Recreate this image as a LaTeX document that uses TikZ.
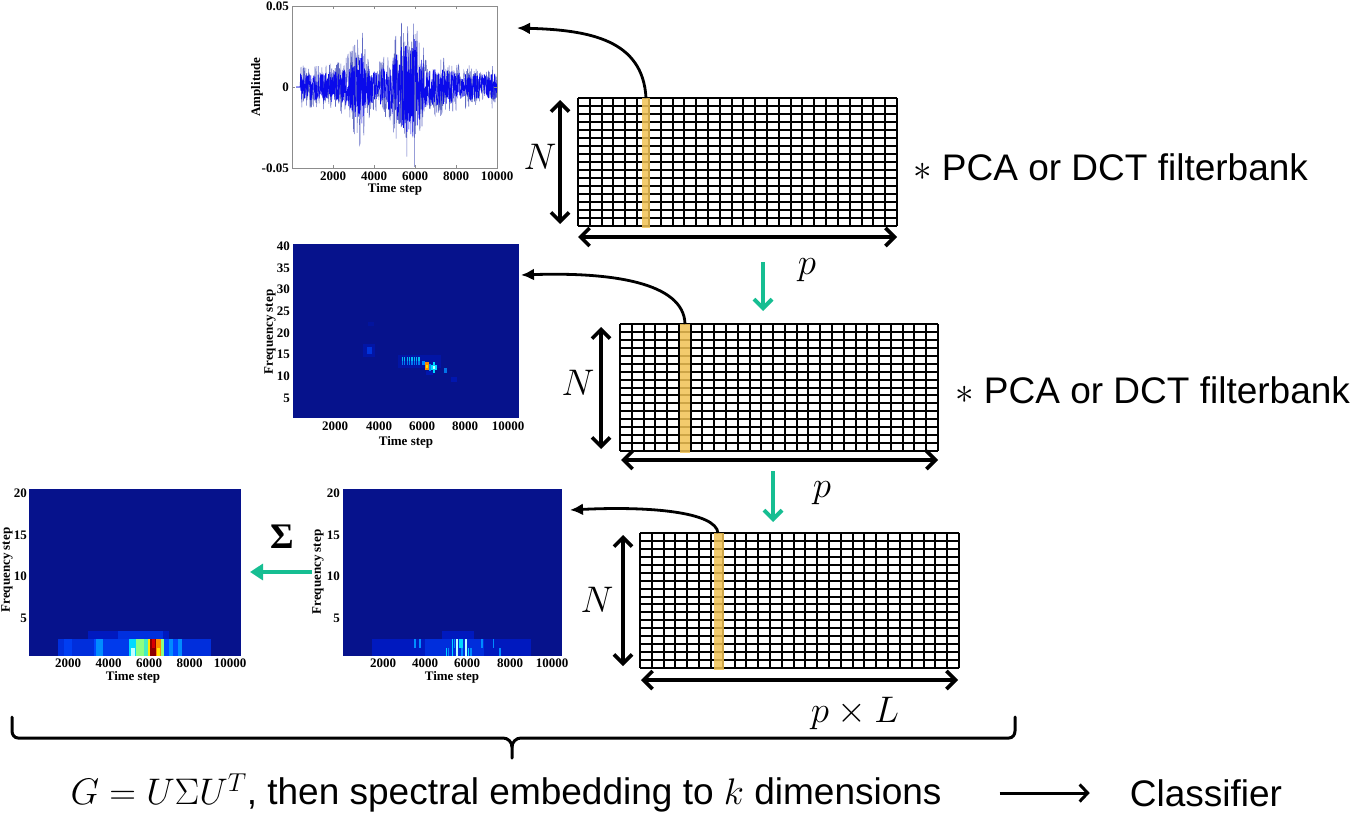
\RequirePackage{fix-cm}
\documentclass[tikz,border=0pt]{standalone}
\usepackage{fontspec}
\setmainfont{Liberation Sans}
\newfontfamily\tnr{Liberation Serif}
\usetikzlibrary{arrows.meta}
\definecolor{tealc}{RGB}{22,190,146}
\definecolor{jetbg}{RGB}{6,18,140}
\definecolor{ylw}{RGB}{242,194,84}
\definecolor{axgray}{RGB}{140,140,140}
\definecolor{sigblue}{RGB}{10,10,235}
\definecolor{siglight}{RGB}{95,105,195}
\definecolor{j1}{rgb}{0,0.1,0.75}
\definecolor{j2}{rgb}{0,0.28,1}
\definecolor{j3}{rgb}{0,0.55,1}
\definecolor{j4}{rgb}{0,0.85,1}
\definecolor{j5}{rgb}{0.55,1,0.5}
\definecolor{j6}{rgb}{1,0.9,0}
\definecolor{j7}{rgb}{1,0.55,0}
\definecolor{j8}{rgb}{0.85,0,0}
\definecolor{j9}{rgb}{0.55,0,0}
\definecolor{jw}{rgb}{0.75,1,1}
\newcommand\bigsize{\fontsize{37}{42}\selectfont}
\tikzset{
  bigtext/.style={font=\bigsize, inner sep=0pt},
  ticklab/.style={font=\tnr\bfseries\fontsize{13}{14}\selectfont, inner sep=0pt},
  gridline/.style={line width=2pt},
  dimarrow/.style={line width=3.6pt, {Straight Barb[length=9pt,width=18pt]}-{Straight Barb[length=9pt,width=18pt]}},
  tealdown/.style={tealc, line width=4pt, -{Straight Barb[length=9pt,width=18pt]}},
  curvearrow/.style={line width=2.8pt, -{Latex[length=13pt,width=12pt]}},
}
\newcommand\matgrid[6]{%
  \fill[white] (#1,#2) rectangle (#3,#4);
  \foreach \i in {0,...,#5} {\draw[gridline] ({#1+(#3-#1)*\i/#5},#2) -- ({#1+(#3-#1)*\i/#5},#4);}
  \foreach \j in {0,...,#6} {\draw[gridline] (#1,{#2+(#4-#2)*\j/#6}) -- (#3,{#2+(#4-#2)*\j/#6});}
}
\newcommand\cel[5]{\fill[#5] (#1,#3) rectangle (#2,#4);}
\begin{document}
\begin{tikzpicture}[x=1pt,y=-1pt]
\useasboundingbox (0,0) rectangle (1371,838);
\pgfmathsetseed{12}
% ================= P1 : signal
\begin{scope}
 \clip (292,6) rectangle (497,168);
 \begin{scope}[shift={(292,87)}, x=20.5pt, y=16.2pt,
   declare function={env(\x)=1.0+1.4*exp(-(\x-3.3)*(\x-3.3)/0.1)+2.0*exp(-(\x-5.5)*(\x-5.5)/0.6)+1.3*exp(-(\x-6.0)*(\x-6.0)/0.12)+0.5*exp(-(\x-3.0)*(\x-3.0)/0.8)+0.4*exp(-(\x-7.3)*(\x-7.3)/0.3);}]
   \draw[siglight, line width=0.5pt] (0.2,0) -- (0.4,0) \foreach \i in {1,...,480}{ -- ({0.4+\i*0.02},{1.35*env(0.4+\i*0.02)*rand}) };
   \draw[sigblue, line width=0.6pt] (0.2,0) -- (0.4,0) \foreach \i in {1,...,800}{ -- ({0.4+\i*0.012},{0.85*env(0.4+\i*0.012)*rand}) };
 \end{scope}
\end{scope}
\draw[axgray, line width=0.6pt] (292,6) rectangle (497,168);
\foreach \x in {333,374,415,456} {\draw[axgray, line width=0.6pt] (\x,168) -- (\x,165) (\x,6) -- (\x,9);}
\foreach \y in {6,87,168} {\draw[axgray, line width=0.6pt] (292,\y) -- (295,\y) (497,\y) -- (494,\y);}
\node[ticklab, anchor=east] (p1y1) at (289,6) {0.05};
\node[ticklab, anchor=east] (p1y2) at (289,87) {0};
\node[ticklab, anchor=east] (p1y3) at (289,168) {-0.05};
\node[ticklab] (p1x1) at (333,176) {2000};
\node[ticklab] (p1x2) at (374,176) {4000};
\node[ticklab] (p1x3) at (415,176) {6000};
\node[ticklab] (p1x4) at (456,176) {8000};
\node[ticklab] (p1x5) at (497,176) {10000};
\node[ticklab] (p1xl) at (395,189) {Time step};
\node[ticklab, rotate=90] (p1yl) at (257,87) {Amplitude};
\coordinate (p1in) at (517,28);
% ================= P2 : spectrogram 40
\fill[jetbg] (293,244) rectangle (519,417.5);
\begin{scope}
 \clip (293,244) rectangle (519,417.5);
 \begin{scope}[shift={(292,419.7)}, x=21.65pt, y=4.34pt]
  \fill[j1, opacity=0.5] (3.3,14.5) rectangle (3.85,17.5);
  \fill[j2, opacity=0.6] (3.45,15.2) rectangle (3.7,16.8);
  \fill[j1, opacity=0.35] (3.5,21.5) rectangle (3.8,22.5);
  \fill[j1, opacity=0.5] (4.9,12) rectangle (6.9,15);
  \foreach \k in {0,...,7} {
    \fill[j4, opacity=0.85] (5.07+\k*0.11,13.5) rectangle (5.13+\k*0.11,14.4);
    \fill[j3, opacity=0.85] (5.07+\k*0.11,12.5) rectangle (5.13+\k*0.11,13.5);
  }
  \cel{6.02}{6.15}{12.5}{13.5}{j3}
  \cel{6.15}{6.32}{11.5}{13.3}{j7}
  \cel{6.2}{6.28}{11.8}{12.6}{j6}
  \cel{6.32}{6.42}{11.3}{12.8}{j3}
  \cel{6.42}{6.72}{11.5}{12.5}{j4}
  \cel{6.5}{6.62}{10.7}{13.3}{j4}
  \cel{6.52}{6.6}{11.6}{12.4}{jw}
  \fill[j3, opacity=0.8] (7.0,10.8) rectangle (7.15,11.8);
  \fill[j1, opacity=0.7] (6.2,10.3) rectangle (6.5,11.3);
  \fill[j1, opacity=0.7] (7.35,8.8) rectangle (7.6,9.9);
 \end{scope}
\end{scope}
\foreach \f/\yy in {5/398,10/376.3,15/354.6,20/332.9,25/311.2,30/289.5,35/267.8,40/246.1}
  {\node[ticklab, anchor=east] at (290,\yy) {\f};}
\node[ticklab] (p2x1) at (335,426) {2000};
\node[ticklab] (p2x2) at (379,426) {4000};
\node[ticklab] (p2x3) at (422,426) {6000};
\node[ticklab] (p2x4) at (465,426) {8000};
\node[ticklab] (p2x5) at (508,426) {10000};
\node[ticklab] (p2xl) at (406,442) {Time step};
\node[ticklab, rotate=90] (p2yl) at (270,332) {Frequency step};
\coordinate (p2in) at (521,275);
% ================= P3 : spectrogram 20 (right)
\fill[jetbg] (343,489) rectangle (562,656);
\begin{scope}
 \clip (343,489) rectangle (562,656);
 \begin{scope}[shift={(340.75,660)}, x=21.1pt, y=8.33pt]
  \cel{1.5}{9.0}{0.5}{2.5}{j1}
  \cel{4.0}{6.8}{0.5}{2.5}{j1!55!j2}
  \cel{4.8}{6.3}{2.5}{3.5}{j1}
  \cel{3.45}{3.55}{1.5}{2.5}{j3}
  \cel{3.7}{3.8}{1.5}{2.5}{j3}
  \cel{4.97}{5.05}{0.5}{1.5}{j4}
  \cel{5.08}{5.13}{0.5}{1.5}{j3}
  \cel{5.25}{5.33}{0.5}{2.5}{j4}
  \cel{5.36}{5.42}{1.5}{2.5}{j3}
  \cel{5.48}{5.55}{0.5}{2.5}{jw}
  \cel{5.62}{5.68}{1.5}{2.5}{j4}
  \cel{5.72}{5.8}{0.5}{1.5}{j3}
  \cel{5.72}{5.8}{1.5}{2.5}{j4}
  \cel{5.9}{5.98}{0.5}{2.5}{jw}
  \cel{6.02}{6.1}{0.5}{1.5}{j4}
  \cel{6.12}{6.2}{0.5}{1.5}{j3}
  \cel{6.65}{6.72}{1.5}{2.5}{j3}
  \cel{7.2}{7.28}{1.5}{2.5}{j3}
  \cel{7.5}{7.58}{0.5}{1.5}{j3}
 \end{scope}
\end{scope}
\foreach \f/\yy in {5/618.4,10/576.7,15/535.1,20/493.4}
  {\node[ticklab, anchor=east] at (340,\yy) {\f};}
\node[ticklab] (p3x1) at (383,663) {2000};
\node[ticklab] (p3x2) at (425,663) {4000};
\node[ticklab] (p3x3) at (467,663) {6000};
\node[ticklab] (p3x4) at (510,663) {8000};
\node[ticklab] (p3x5) at (552,663) {10000};
\node[ticklab] (p3xl) at (452,677) {Time step};
\node[ticklab, rotate=90] (p3yl) at (318,572) {Frequency step};
\coordinate (p3in) at (570,510);
\coordinate (p3out) at (312,572);
% ================= P4 : spectrogram 20 (left)
\fill[jetbg] (29,489) rectangle (241,656);
\begin{scope}
 \clip (29,489) rectangle (241,656);
 \begin{scope}[shift={(27.5,660)}, x=20.2pt, y=8.33pt]
  \cel{1.5}{9.1}{0.5}{2.5}{j1!55!j2}
  \cel{3.0}{7.0}{2.5}{3.5}{j1}
  \cel{4.5}{6.7}{2.5}{3.5}{j1!50!j2}
  \cel{1.8}{2.2}{0.5}{2.5}{j1!20!j2}
  \cel{3.3}{3.4}{0.5}{2.5}{j2}
  \cel{3.4}{3.75}{0.5}{2.5}{j3}
  \cel{3.75}{5.0}{0.5}{2.5}{j1!30!j2}
  \cel{5.0}{5.35}{0.5}{2.5}{j4}
  \cel{5.1}{5.3}{0.5}{1.5}{jw}
  \cel{5.35}{5.75}{0.5}{2.5}{j5}
  \cel{5.75}{5.95}{0.5}{2.5}{j4!50!j5}
  \cel{5.95}{6.08}{0.5}{2.5}{j6}
  \cel{6.08}{6.35}{0.5}{2.5}{j9}
  \cel{6.14}{6.3}{1.5}{2.5}{j8}
  \cel{6.35}{6.6}{0.5}{2.5}{j7}
  \cel{6.4}{6.55}{0.5}{1.5}{j6}
  \cel{6.6}{6.75}{0.5}{2.5}{j5}
  \cel{6.75}{7.0}{0.5}{2.5}{j2}
  \cel{7.0}{7.2}{0.5}{2.5}{j3}
  \cel{7.2}{7.45}{0.5}{2.5}{j2}
  \cel{7.45}{7.65}{0.5}{2.5}{j3}
 \end{scope}
\end{scope}
\foreach \f/\yy in {5/618.4,10/576.7,15/535.1,20/493.4}
  {\node[ticklab, anchor=east] at (27,\yy) {\f};}
\node[ticklab] (p4x1) at (68,663) {2000};
\node[ticklab] (p4x2) at (108.5,663) {4000};
\node[ticklab] (p4x3) at (149,663) {6000};
\node[ticklab] (p4x4) at (189.5,663) {8000};
\node[ticklab] (p4x5) at (230,663) {10000};
\node[ticklab] (p4xl) at (133,677) {Time step};
\node[ticklab, rotate=90] (p4yl) at (7,570) {Frequency step};
\coordinate (p4in) at (250,572);
% ================= Grids
\matgrid{578}{98}{897}{226}{27}{16}
\fill[ylw, opacity=0.85] (642,98) rectangle (650,228);
\coordinate (g1top) at (646,98);
\matgrid{620}{324}{938}{451}{27}{16}
\fill[ylw, opacity=0.85] (680,324) rectangle (690,453);
\coordinate (g2top) at (685,324);
\matgrid{640}{533}{959}{668}{27}{17}
\fill[ylw, opacity=0.85] (714,533) rectangle (724,670);
\coordinate (g3top) at (718,533);
% dimension arrows
\coordinate (n1a) at (560,100); \coordinate (n1b) at (560,224);
\draw[dimarrow] (n1a) -- (n1b);
\coordinate (h1a) at (578,237); \coordinate (h1b) at (897,237);
\draw[dimarrow] (h1a) -- (h1b);
\node[bigtext] (N1) at (540,157) {$N$};
\coordinate (n2a) at (601,327); \coordinate (n2b) at (601,449);
\draw[dimarrow] (n2a) -- (n2b);
\coordinate (h2a) at (621,460); \coordinate (h2b) at (938,460);
\draw[dimarrow] (h2a) -- (h2b);
\node[bigtext] (N2) at (578,383) {$N$};
\coordinate (n3a) at (623,535); \coordinate (n3b) at (623,666);
\draw[dimarrow] (n3a) -- (n3b);
\coordinate (h3a) at (641,680); \coordinate (h3b) at (958,680);
\draw[dimarrow] (h3a) -- (h3b);
\node[bigtext] (N3) at (597,600) {$N$};
% filterbank labels
\node[bigtext, anchor=west] (fb1) at (913,167) {$\ast$ PCA or DCT filterbank};
\node[bigtext, anchor=west] (fb2) at (955,390) {$\ast$ PCA or DCT filterbank};
% p labels
\node[bigtext] (pl1) at (807,270) {$p$};
\node[bigtext] (pl2) at (822,493) {$p$};
\node[bigtext] (pl3) at (855,713) {$p\times L$};
% teal arrows
\coordinate (t1a) at (763,262); \coordinate (t1b) at (763,311);
\draw[tealdown] (t1a) -- (t1b);
\coordinate (t2a) at (773,471); \coordinate (t2b) at (773,522);
\draw[tealdown] (t2a) -- (t2b);
\draw[tealc, line width=4.5pt, -{Triangle[length=13pt,width=16pt]}] (p3out) -- (p4in);
\node[font=\tnr\bfseries\fontsize{36}{40}\selectfont, inner sep=0pt] (sig) at (282,537) {Σ};
% curved arrows
\draw[curvearrow] (g1top) .. controls (643,40) and (590,30) .. (p1in);
\draw[curvearrow] (g2top) .. controls (684,282) and (610,272) .. (p2in);
\draw[curvearrow] (g3top) .. controls (716,512) and (650,506) .. (p3in);
% brace
\draw[line width=3pt, line cap=round, line join=round]
  (12,717) -- (12,731) to[out=-90,in=180] (18,738) -- (503,738) to[out=0,in=90] (512,747) -- (512,758);
\draw[line width=3pt, line cap=round, line join=round]
  (1015,717) -- (1015,731) to[out=-90,in=0] (1009,738) -- (521,738) to[out=180,in=90] (512,747);
% bottom text
\node[bigtext] (emb) at (506,793) {$G=U\Sigma U^T$, then spectral embedding to $k$ dimensions};
\node[bigtext] (cls) at (1206,793) {Classifier};
\draw[line width=3pt, -{Straight Barb[length=8pt,width=17pt]}, shorten <=58pt, shorten >=40pt] (emb) -- (cls);
\end{tikzpicture}
\end{document}
